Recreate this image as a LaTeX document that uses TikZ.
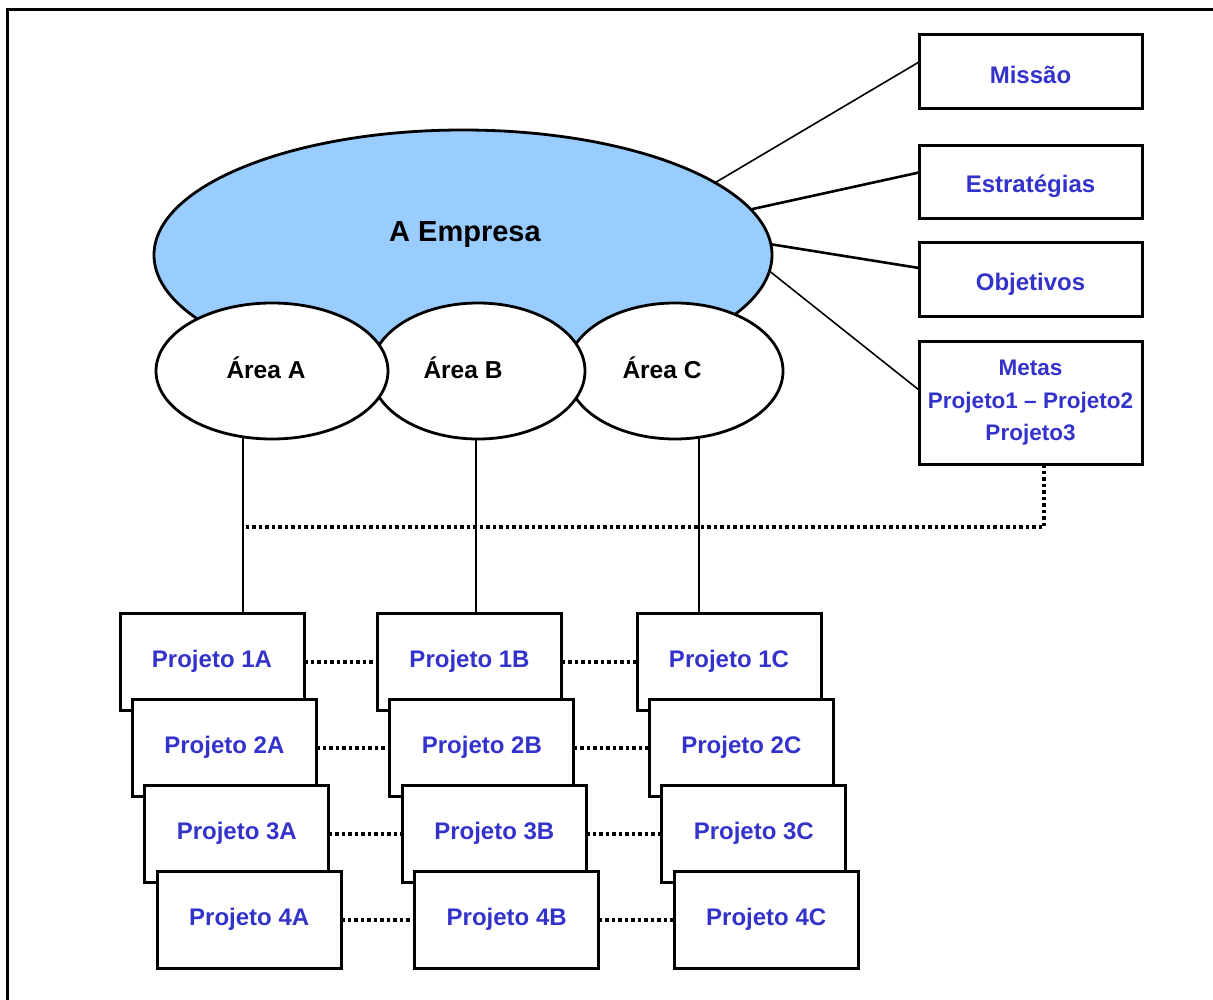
\documentclass[tikz,border=0pt]{standalone}
\usepackage{fontspec}
\setmainfont{Liberation Sans}
\usetikzlibrary{shapes.geometric,calc}
\definecolor{txtblue}{RGB}{51,51,204}
\definecolor{empblue}{RGB}{153,204,255}
\begin{document}
\begin{tikzpicture}[x=1pt,y=-1pt,
  frameline/.style={line width=3pt,line cap=rect},
  conn/.style={line width=2.2pt},
  thinconn/.style={line width=1.6pt},
  thickconn/.style={line width=2.6pt},
  dotline/.style={line width=4pt,dash pattern=on 3.5pt off 3pt},
  bigell/.style={ellipse,draw,line width=2.8pt,fill=empblue,inner sep=0pt,outer sep=0pt,minimum width=618pt,minimum height=250pt},
  areaell/.style={ellipse,draw,line width=2.8pt,fill=white,inner sep=0pt,outer sep=0pt,minimum height=136pt},
  sidebox/.style={draw,line width=3pt,fill=white,inner sep=0pt,outer sep=0pt,minimum width=223pt,
     font=\fontsize{24}{32}\selectfont\bfseries,text=txtblue,align=center},
  boxlabel/.style={inner sep=0pt,font=\fontsize{24}{32}\selectfont\bfseries,text=txtblue},
  projbox/.style={draw,line width=3pt,fill=white,inner sep=0pt,outer sep=0pt,minimum width=184pt,minimum height=97pt,
     font=\fontsize{24}{28}\selectfont\bfseries,text=txtblue},
  arealabel/.style={font=\fontsize{24.5}{28}\selectfont\bfseries,text=black},
  emplabel/.style={font=\fontsize{29}{34}\selectfont\bfseries,text=black}
]
\useasboundingbox (0,0) rectangle (1213,1000);
\fill[white] (0,0) rectangle (1213,1000);

% frame (top and left)
\coordinate (fbl) at (7,1002);
\coordinate (ftl) at (7,10);
\coordinate (ftr) at (1215,10);
\draw[frameline] (fbl) -- (ftl) -- (ftr);

% right side boxes
\node[sidebox,minimum height=74pt,label={[boxlabel,yshift=-3pt]center:Missão}] (mis) at (1030.5,72) {};
\node[sidebox,minimum height=73pt,label={[boxlabel,yshift=-4pt]center:Estratégias}] (est) at (1030.5,182.5) {};
\node[sidebox,minimum height=74pt,label={[boxlabel,yshift=-4pt]center:Objetivos}] (obj) at (1030.5,280) {};
\node[sidebox,minimum height=122pt,font=\fontsize{22.5}{32.5}\selectfont\bfseries] (met) at (1030.5,403) {Metas\\Projeto1 -- Projeto2\\Projeto3};

% big ellipse
\node[bigell] (emp) at (463,255) {};
\node[emplabel] (tE) at (465,235) {A Empresa};

% connectors from the company to the side boxes
\draw[thinconn]  (emp.16)  -- ([yshift=10pt]mis.west);
\draw[thickconn] (emp.9.5) -- ([yshift=10pt]est.west);
\draw[thickconn] (emp.2)   -- ([yshift=12pt]obj.west);
\draw[thinconn]  (emp.-3)  -- ([yshift=13pt]met.west);

% project boxes
\foreach \r in {1,...,4} {
  \foreach \c/\x in {A/120,B/377.5,C/637} {
    \node[projbox] (p\c\r) at ({\x+92+12.4*(\r-1)},{661.5+86*(\r-1)}) {Projeto \r\c};
  }
}

% vertical connectors from the areas to the first projects
\coordinate (xa) at (243,371);
\coordinate (xb) at (476,371);
\coordinate (xc) at (699,371);
\draw[conn] (xa) -- (xa |- pA1.north);
\draw[conn] (xb) -- (xb |- pB1.north);
\draw[conn] (xc) -- (xc |- pC1.north);

% areas
\node[areaell,minimum width=216pt] (aC) at (675,371) {};
\node[areaell,minimum width=214pt] (aB) at (478,371) {};
\node[areaell,minimum width=232pt] (aA) at (272,371) {};
\node[arealabel] (tA) at (266,368) {Área A};
\node[arealabel] (tB) at (463,368) {Área B};
\node[arealabel] (tC) at (662,368) {Área C};

% dotted link from Metas to the areas' lines
\coordinate (d1) at (1044,527);
\coordinate (d0) at (243,527);
\draw[dotline] (met.south -| d1) -- (d1) -- (d0);

% dotted links between projects
\foreach \r in {1,...,4} {
  \draw[dotline] (pA\r.east) -- (pB\r.west);
  \draw[dotline] (pB\r.east) -- (pC\r.west);
}
\end{tikzpicture}
\end{document}
